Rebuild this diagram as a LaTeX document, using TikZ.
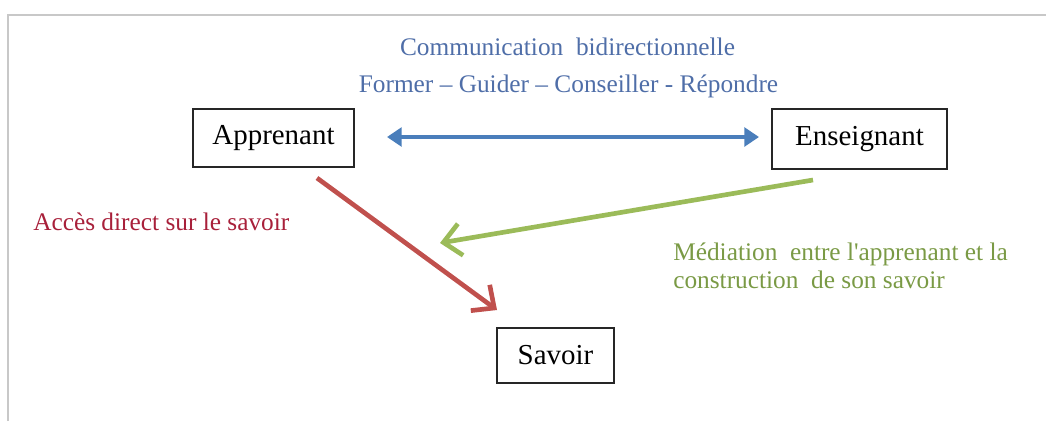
\documentclass[tikz,border=0pt]{standalone}
\usepackage{fontspec}
\setmainfont{Liberation Serif}
\usetikzlibrary{arrows.meta}
\definecolor{cblue}{HTML}{4A7EBB}
\definecolor{cred}{HTML}{C0504D}
\definecolor{cgreen}{HTML}{9BBB59}
\definecolor{tblue}{HTML}{4F6EA8}
\definecolor{tred}{HTML}{A8203A}
\definecolor{tgreen}{HTML}{7A9A45}
\definecolor{frame}{HTML}{C8C8C8}
\tikzset{
  box/.style={draw=black!85, line width=1.5pt, font=\fontsize{21.7}{24}\selectfont, inner sep=0pt},
  lbl/.style={font=\fontsize{19}{22}\selectfont, inner sep=0pt},
  conn/.style={line width=3.5pt},
}
\begin{document}
\begin{tikzpicture}[x=0.75pt,y=-0.75pt]
\useasboundingbox (0,0) rectangle (1046,422);
% frame lines
\draw[frame, line width=1pt] (8,421) -- (8,15) -- (1046,15);
% boxes
\node[box, minimum width=120.75pt, minimum height=43.5pt] (app) at (273.5,138) {Apprenant};
\node[box, minimum width=131.25pt, minimum height=45pt] (ens) at (859.5,139) {Enseignant};
\node[box, minimum width=87.75pt, minimum height=41.25pt] (sav) at (555.5,355.5) {Savoir};
% texts
\node[lbl, text=tblue, anchor=base] (t1) at (567.5,55) {Communication\ \ bidirectionnelle};
\node[lbl, text=tblue, anchor=base] (t2) at (568.5,92) {Former – Guider – Conseiller - Répondre};
\node[lbl, text=tred, anchor=base west] (t3) at (33,230) {Accès direct sur le savoir};
\node[lbl, text=tgreen, anchor=base west] (t4) at (673,260) {Médiation\ \ entre l\textquotesingle apprenant et la};
\node[lbl, text=tgreen, anchor=base west] (t5) at (673,288) {construction\ \ de son savoir};
% connector endpoints
\coordinate (bl) at (387,137);
\coordinate (br) at (759,137);
\coordinate (rs) at (317,178);
\coordinate (re) at (497,310);
\coordinate (gs) at (813,180);
\coordinate (ge) at (440,243);
% connectors
\draw[conn, cblue, {Triangle[length=11pt,width=14pt]}-{Triangle[length=11pt,width=14pt]}] (bl) -- (br);
\draw[conn, cred, -{Straight Barb[length=13pt,width=24pt,line width=3.5pt]}] (rs) -- (re);
\draw[conn, cgreen, -{Straight Barb[length=13pt,width=24pt,line width=3.5pt]}] (gs) -- (ge);
\end{tikzpicture}
\end{document}
